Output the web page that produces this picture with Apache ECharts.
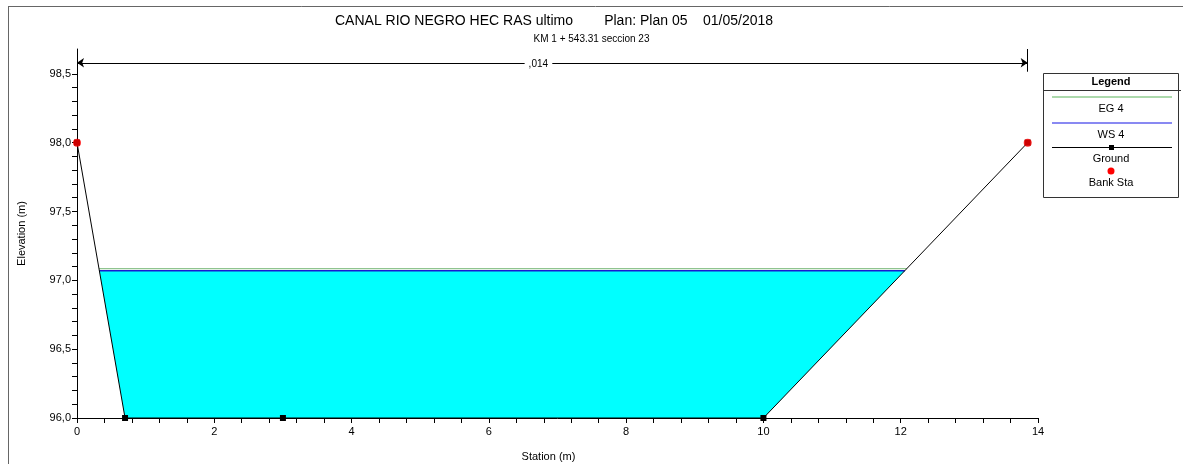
<!DOCTYPE html>
<html>
<head>
<meta charset="utf-8">
<script src="https://cdn.jsdelivr.net/npm/echarts@6/dist/echarts.min.js"></script>
<style>
  html, body { margin: 0; padding: 0; background: #fff; }
  #chart { width: 1183px; height: 464px; }
</style>
</head>
<body>
<div id="chart"></div>
<script>
// Cross section data (station m, elevation m)
var groundStation = [0, 0.7, 3.0, 10.0, 13.85];
var groundElev = [98.0, 96.0, 96.0, 96.0, 98.0];
var bankStation = [0, 13.85];
var bankElev = [98.0, 98.0];
var wsElev = 97.07;   // WS 4
var egElev = 97.085;  // EG 4
var manningN = ',014';

// Axis labels
var xTickLabels = [0, 2, 4, 6, 8, 10, 12, 14];
var yTickLabels = [96.0, 96.5, 97.0, 97.5, 98.0, 98.5];
var yMin = 96.0, yMax = 98.68;

var FONT = 'Liberation Sans, Arial, sans-serif';

// minor ticks (same length as majors in HEC-RAS)
function steps(from, to, step) {
  var out = [];
  for (var i = 0; from + i * step <= to + 1e-9; i++) out.push(+(from + i * step).toFixed(4));
  return out;
}
var xTicks = steps(0, 14, 0.4);
var yTicks = steps(96.0, 98.5, 0.1);

var groundData = groundStation.map(function (s, i) { return [s, groundElev[i]]; });
var bankData = bankStation.map(function (s, i) { return [s, bankElev[i]]; });

// where a level crosses the ground profile
function crossings(level) {
  var out = [];
  for (var i = 1; i < groundData.length; i++) {
    var a = groundData[i - 1], b = groundData[i];
    if ((a[1] - level) * (b[1] - level) < 0) {
      out.push(a[0] + (level - a[1]) / (b[1] - a[1]) * (b[0] - a[0]));
    }
  }
  return out;
}
var wsX = crossings(wsElev);
var egX = crossings(egElev);

// wetted polygon: surface left -> ground below -> surface right
var waterPoly = [[wsX[0], wsElev]];
groundData.forEach(function (p) {
  if (p[0] > wsX[0] && p[0] < wsX[wsX.length - 1] && p[1] < wsElev) waterPoly.push(p);
});
waterPoly.push([wsX[wsX.length - 1], wsElev]);

var chart = echarts.init(document.getElementById('chart'));

var option = {
  backgroundColor: '#fff',
  animation: false,
  title: [
    {
      text: 'CANAL RIO NEGRO HEC RAS ultimo        Plan: Plan 05    01/05/2018',
      left: 335,
      top: 14,
      padding: 0,
      textStyle: { fontFamily: FONT, fontSize: 14, fontWeight: 'normal', color: '#000' }
    },
    {
      text: 'KM 1 + 543.31 seccion 23',
      left: 'center',
      top: 34,
      padding: 0,
      textStyle: { fontFamily: FONT, fontSize: 10, fontWeight: 'normal', color: '#000' }
    }
  ],
  grid: { left: 77, right: 145, top: 49, bottom: 46, outerBoundsMode: 'none' },
  xAxis: {
    type: 'value',
    min: 0, max: 14, interval: 2,
    name: 'Station (m)',
    nameLocation: 'middle',
    nameGap: 33,
    nameTextStyle: { fontFamily: FONT, fontSize: 11, color: '#000', padding: [0, 18, 0, 0] },
    axisLine: { lineStyle: { color: '#000', width: 1 } },
    axisTick: { show: true, inside: false, length: 5, lineStyle: { color: '#000' }, customValues: xTicks },
    axisLabel: { fontFamily: FONT, fontSize: 11, color: '#000', margin: 8, customValues: xTickLabels },
    splitLine: { show: false }
  },
  yAxis: {
    type: 'value',
    min: yMin, max: yMax,
    name: 'Elevation (m)',
    nameLocation: 'middle',
    nameGap: 50,
    nameTextStyle: { fontFamily: FONT, fontSize: 11, color: '#000' },
    axisLine: { show: true, lineStyle: { color: '#000', width: 1 } },
    axisTick: { show: true, inside: false, length: 5, lineStyle: { color: '#000' }, customValues: yTicks },
    axisLabel: {
      fontFamily: FONT, fontSize: 11, color: '#000', margin: 6,
      customValues: yTickLabels,
      formatter: function (v) { return v.toFixed(1).replace('.', ','); }
    },
    splitLine: { show: false }
  },
  graphic: [
    // page frame
    { type: 'line', shape: { x1: 8, y1: 6.5, x2: 1183, y2: 6.5 }, style: { stroke: '#666', lineWidth: 1 } },
    { type: 'line', shape: { x1: 8.5, y1: 6, x2: 8.5, y2: 464 }, style: { stroke: '#666', lineWidth: 1 } },
    // legend box
    { type: 'rect', shape: { x: 1043.5, y: 73.5, width: 135, height: 124 }, style: { fill: '#fff', stroke: '#333', lineWidth: 1 }, z: 10 },
    { type: 'line', shape: { x1: 1043.5, y1: 90.5, x2: 1181, y2: 90.5 }, style: { stroke: '#333', lineWidth: 1 }, z: 11 },
    { type: 'text', x: 1111, y: 82, style: { text: 'Legend', font: 'bold 11px ' + FONT, fill: '#000', align: 'center', verticalAlign: 'middle' }, z: 11 },
    { type: 'line', shape: { x1: 1052, y1: 97, x2: 1172, y2: 97 }, style: { stroke: '#90cc90', lineWidth: 1.5 }, z: 11 },
    { type: 'text', x: 1111, y: 109, style: { text: 'EG 4', font: '11px ' + FONT, fill: '#000', align: 'center', verticalAlign: 'middle' }, z: 11 },
    { type: 'line', shape: { x1: 1052, y1: 123, x2: 1172, y2: 123 }, style: { stroke: '#1515e6', lineWidth: 1.2 }, z: 11 },
    { type: 'text', x: 1111, y: 135, style: { text: 'WS 4', font: '11px ' + FONT, fill: '#000', align: 'center', verticalAlign: 'middle' }, z: 11 },
    { type: 'line', shape: { x1: 1052, y1: 147.5, x2: 1172, y2: 147.5 }, style: { stroke: '#000', lineWidth: 1 }, z: 11 },
    { type: 'rect', shape: { x: 1109, y: 145, width: 5, height: 5 }, style: { fill: '#000' }, z: 12 },
    { type: 'text', x: 1111, y: 159, style: { text: 'Ground', font: '11px ' + FONT, fill: '#000', align: 'center', verticalAlign: 'middle' }, z: 11 },
    { type: 'circle', shape: { cx: 1111, cy: 171, r: 3.5 }, style: { fill: '#ff0000' }, z: 11 },
    { type: 'text', x: 1111, y: 183, style: { text: 'Bank Sta', font: '11px ' + FONT, fill: '#000', align: 'center', verticalAlign: 'middle' }, z: 11 }
  ],
  series: [
    {
      name: 'Water',
      type: 'custom',
      data: [[waterPoly[0][0], wsElev]],
      silent: true,
      z: 1,
      renderItem: function (params, api) {
        var pts = waterPoly.map(function (p) { return api.coord(p); });
        return { type: 'polygon', shape: { points: pts }, style: { fill: '#00ffff' } };
      }
    },
    {
      name: 'EG 4',
      type: 'line',
      data: [[egX[0], egElev], [egX[egX.length - 1], egElev]],
      showSymbol: false,
      lineStyle: { color: '#8fc48f', width: 1.2 },
      z: 3
    },
    {
      name: 'WS 4',
      type: 'line',
      data: [[wsX[0], wsElev], [wsX[wsX.length - 1], wsElev]],
      showSymbol: false,
      lineStyle: { color: '#1a1ad0', width: 1.5 },
      z: 2
    },
    {
      name: 'Ground',
      type: 'line',
      data: groundData,
      symbol: 'rect',
      symbolSize: 6,
      showSymbol: true,
      itemStyle: { color: '#000' },
      lineStyle: { color: '#000', width: 1 },
      z: 4,
      markLine: {
        silent: true,
        animation: false,
        lineStyle: { color: '#000', width: 1, type: 'solid' },
        data: [
          [
            {
              coord: [bankStation[0], yMax - 0.1], symbol: 'arrow', symbolSize: 7,
              label: {
                show: true,
                position: 'middle',
                formatter: manningN,
                fontFamily: FONT,
                fontSize: 10,
                color: '#000',
                backgroundColor: '#fff',
                padding: [1, 4],
                distance: 0,
                offset: [-14, 7]
              }
            },
            { coord: [bankStation[1], yMax - 0.1], symbol: 'arrow', symbolSize: 7 }
          ],
          [
            { coord: [bankStation[1], yMax - 0.165], symbol: 'none', label: { show: false } },
            { coord: [bankStation[1], yMax], symbol: 'none' }
          ]
        ]
      }
    },
    {
      name: 'Bank Sta',
      type: 'scatter',
      data: bankData,
      symbol: 'circle',
      symbolSize: 8,
      itemStyle: { color: '#ff0000' },
      z: 5
    }
  ]
};

chart.setOption(option);
window.addEventListener('resize', function () { chart.resize(); });
</script>
</body>
</html>
